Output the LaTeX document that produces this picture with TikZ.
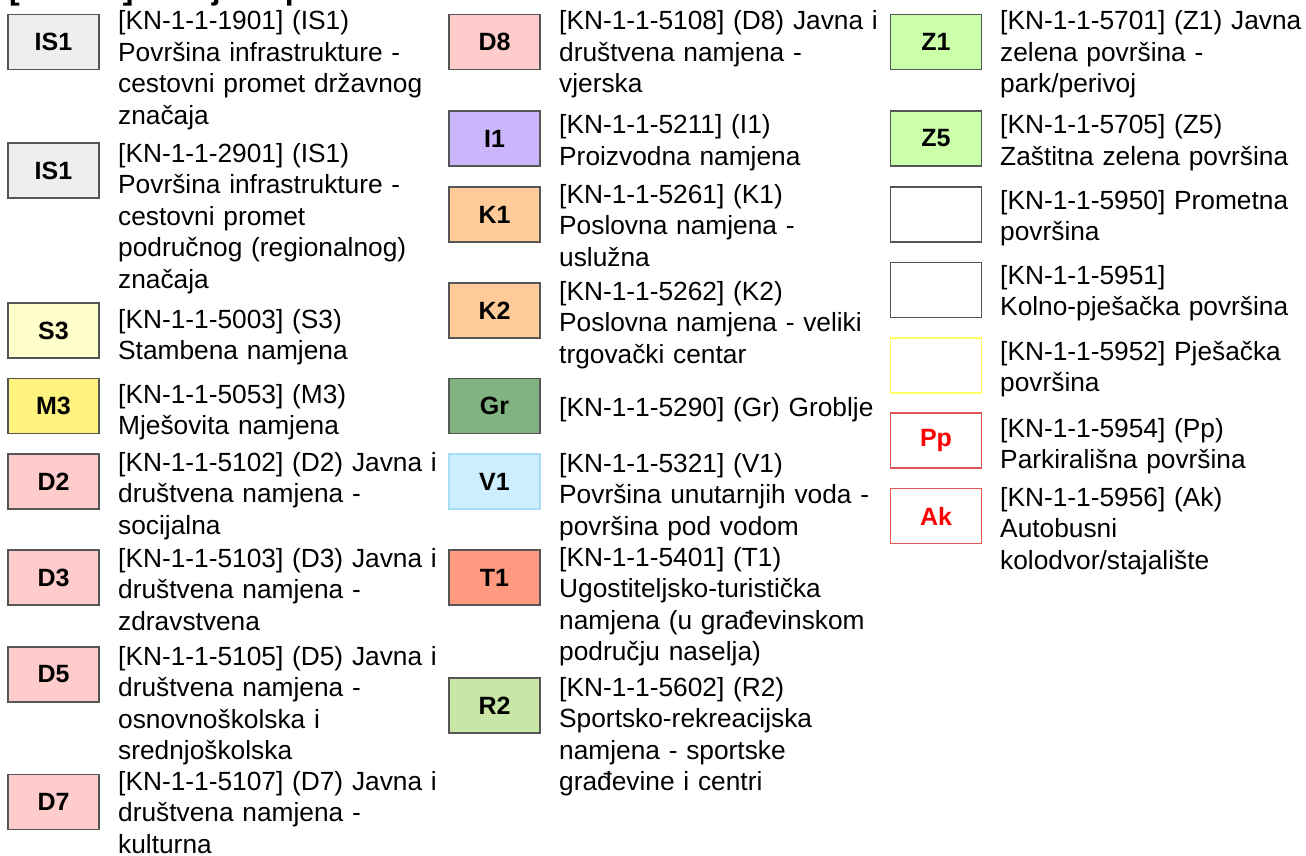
\documentclass[tikz,border=0pt]{standalone}
\usepackage{fontspec}
\setmainfont{Liberation Sans}
\definecolor{boxgray}{HTML}{555555}
\definecolor{isfill}{HTML}{EEEEEE}
\definecolor{sfill}{HTML}{FFFFCC}
\definecolor{mfill}{HTML}{FFF380}
\definecolor{dfill}{HTML}{FFCCCC}
\definecolor{ifill}{HTML}{CBB6FB}
\definecolor{kfill}{HTML}{FFCC99}
\definecolor{grfill}{HTML}{80B380}
\definecolor{vfill}{HTML}{CCEEFF}
\definecolor{vdraw}{HTML}{A6DCF5}
\definecolor{tfill}{HTML}{FF9980}
\definecolor{rfill}{HTML}{C8E6A5}
\definecolor{zfill}{HTML}{CCFFAA}
\definecolor{ydraw}{HTML}{FFFF66}
\definecolor{rdraw}{HTML}{E05555}
\definecolor{rtext}{HTML}{FF0000}
\tikzset{
  lbox/.style={draw=boxgray, line width=1.5pt, minimum width=91pt, minimum height=55pt,
    inner sep=0pt, font=\bfseries\fontsize{25}{29}\selectfont},
  desc/.style={anchor=base west, inner sep=0pt, text width=340pt, align=left,
    font=\fontsize{26.3}{31.5}\selectfont},
}
\begin{document}
\begin{tikzpicture}[x=1pt,y=-1pt]
\useasboundingbox[fill=white] (0,0) rectangle (1306,856);
\node[anchor=base west, inner sep=0pt, font=\bfseries\fontsize{32}{36}\selectfont] (title) at (9,-0.5) {[KN-1-1] Namjena površina};
% column 1
\node[lbox, fill=isfill] (b1) at (53.5,42) {IS1};
\node[desc] (t1) at (118,30) {[KN-1-1-1901] (IS1)\\Površina infrastrukture -\\cestovni promet državnog\\značaja};
\node[lbox, fill=isfill] (b2) at (53.5,170.5) {IS1};
\node[desc] (t2) at (118,162) {[KN-1-1-2901] (IS1)\\Površina infrastrukture -\\cestovni promet\\područnog (regionalnog)\\značaja};
\node[lbox, fill=sfill] (b3) at (53.5,330.5) {S3};
\node[desc] (t3) at (118,328) {[KN-1-1-5003] (S3)\\Stambena namjena};
\node[lbox, fill=mfill] (b4) at (53.5,406) {M3};
\node[desc] (t4) at (118,403) {[KN-1-1-5053] (M3)\\Mješovita namjena};
\node[lbox, fill=dfill] (b5) at (53.5,481.5) {D2};
\node[desc] (t5) at (118,471) {[KN-1-1-5102] (D2) Javna i\\društvena namjena -\\socijalna};
\node[lbox, fill=dfill] (b6) at (53.5,577.5) {D3};
\node[desc] (t6) at (118,567) {[KN-1-1-5103] (D3) Javna i\\društvena namjena -\\zdravstvena};
\node[lbox, fill=dfill] (b7) at (53.5,674.5) {D5};
\node[desc] (t7) at (118,665) {[KN-1-1-5105] (D5) Javna i\\društvena namjena -\\osnovnoškolska i\\srednjoškolska};
\node[lbox, fill=dfill] (b8) at (53.5,802) {D7};
\node[desc] (t8) at (118,790) {[KN-1-1-5107] (D7) Javna i\\društvena namjena -\\kulturna};
% column 2
\node[lbox, fill=dfill] (b9) at (494.5,42) {D8};
\node[desc] (t9) at (559,30) {[KN-1-1-5108] (D8) Javna i\\društvena namjena -\\vjerska};
\node[lbox, fill=ifill] (b10) at (494.5,138.5) {I1};
\node[desc] (t10) at (559,134) {[KN-1-1-5211] (I1)\\Proizvodna namjena};
\node[lbox, fill=kfill] (b11) at (494.5,214.5) {K1};
\node[desc] (t11) at (559,203) {[KN-1-1-5261] (K1)\\Poslovna namjena -\\uslužna};
\node[lbox, fill=kfill] (b12) at (494.5,310.5) {K2};
\node[desc] (t12) at (559,300) {[KN-1-1-5262] (K2)\\Poslovna namjena - veliki\\trgovački centar};
\node[lbox, fill=grfill] (b13) at (494.5,406) {Gr};
\node[desc] (t13) at (559,416) {[KN-1-1-5290] (Gr) Groblje};
\node[lbox, fill=vfill, draw=vdraw] (b14) at (494.5,481.5) {V1};
\node[desc] (t14) at (559,472) {[KN-1-1-5321] (V1)\\Površina unutarnjih voda -\\površina pod vodom};
\node[lbox, fill=tfill] (b15) at (494.5,577.5) {T1};
\node[desc] (t15) at (559,566) {[KN-1-1-5401] (T1)\\Ugostiteljsko-turistička\\namjena (u građevinskom\\području naselja)};
\node[lbox, fill=rfill] (b16) at (494.5,705.5) {R2};
\node[desc] (t16) at (559,696) {[KN-1-1-5602] (R2)\\Sportsko-rekreacijska\\namjena - sportske\\građevine i centri};
% column 3
\node[lbox, fill=zfill] (b17) at (936,42) {Z1};
\node[desc] (t17) at (1000,30) {[KN-1-1-5701] (Z1) Javna\\zelena površina -\\park/perivoj};
\node[lbox, fill=zfill] (b18) at (936,138.5) {Z5};
\node[desc] (t18) at (1000,134) {[KN-1-1-5705] (Z5)\\Zaštitna zelena površina};
\node[lbox, fill=white] (b19) at (936,214.5) {};
\node[desc] (t19) at (1000,209) {[KN-1-1-5950] Prometna\\površina};
\node[lbox, fill=white] (b20) at (936,290) {};
\node[desc] (t20) at (1000,284) {[KN-1-1-5951]\\Kolno-pješačka površina};
\node[lbox, fill=white, draw=ydraw] (b21) at (936,365.5) {};
\node[desc] (t21) at (1000,360) {[KN-1-1-5952] Pješačka\\površina};
\node[lbox, fill=white, draw=rdraw, text=rtext] (b22) at (936,440.5) {Pp};
\node[desc] (t22) at (1000,437) {[KN-1-1-5954] (Pp)\\Parkirališna površina};
\node[lbox, fill=white, draw=rdraw, text=rtext] (b23) at (936,516) {Ak};
\node[desc] (t23) at (1000,506) {[KN-1-1-5956] (Ak)\\Autobusni\\kolodvor/stajalište};
\end{tikzpicture}
\end{document}
